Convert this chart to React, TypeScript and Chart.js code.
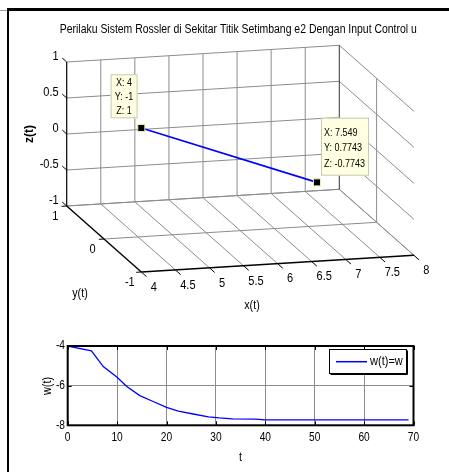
import React, { useEffect, useRef } from 'react';
import { Chart, registerables } from 'chart.js';

Chart.register(...registerables);

// ---------- data ----------
const TITLE = 'Perilaku Sistem Rossler di Sekitar Titik Setimbang e2 Dengan Input Control u';
const X_TICKS = [4, 4.5, 5, 5.5, 6, 6.5, 7, 7.5, 8];
const Y_TICKS = [-1, 0, 1];
const Z_TICKS = [-1, -0.5, 0, 0.5, 1];
const TRAJ_X = [4, 7.549];
const TRAJ_Y = [-1, 0.7743];
const TRAJ_Z = [1, -0.7743];

const T_VALUES = [0, 4.8, 7.2, 10, 11.9, 14.6, 17.3, 20, 22.4, 25.4, 28.5, 30.7, 33.4, 38, 40, 50, 60, 69];
const W_VALUES = [-4.0, -4.25, -5.04, -5.58, -6.03, -6.5, -6.8, -7.1, -7.28, -7.43, -7.57, -7.63, -7.68, -7.69, -7.73, -7.73, -7.73, -7.73];
const T_TICKS = [0, 10, 20, 30, 40, 50, 60, 70];
const W_TICKS = [-8, -6, -4];
const LEGEND_LABEL = 'w(t)=w';

// ---------- layout / style ----------
const FONT = '"Liberation Sans", Arial, Helvetica, sans-serif';
const GRID = '#8c8c8c';
const BLUE = '#0000ff';
const W = 449;
const TOP_H = 320;
const BOT_H = 152;

const XL = [X_TICKS[0], X_TICKS[X_TICKS.length - 1]];
const YL = [Y_TICKS[0], Y_TICKS[Y_TICKS.length - 1]];
const ZL = [Z_TICKS[0], Z_TICKS[Z_TICKS.length - 1]];

// orthographic view (screen vectors of normalized axes)
const VIEW = { ox: 66.7, oy: 206, xu: [272.6, -16.7], yu: [74.6, 66], zu: [0, -144] };
function proj(x: number, y: number, z: number) {
  const nx = (x - XL[0]) / (XL[1] - XL[0]);
  const ny = (YL[1] - y) / (YL[1] - YL[0]);
  const nz = (z - ZL[0]) / (ZL[1] - ZL[0]);
  return {
    x: VIEW.ox + VIEW.xu[0] * nx + VIEW.yu[0] * ny + VIEW.zu[0] * nz,
    y: VIEW.oy + VIEW.xu[1] * nx + VIEW.yu[1] * ny + VIEW.zu[1] * nz,
  };
}

type P3 = [number, number, number];

function txt(ctx: CanvasRenderingContext2D, s: string, x: number, y: number,
  o: { size?: number; bold?: boolean; align?: CanvasTextAlign; sx?: number; rot?: number } = {}) {
  ctx.save();
  ctx.translate(x, y);
  if (o.rot) ctx.rotate(o.rot);
  ctx.scale(o.sx ?? 0.88, 1);
  ctx.font = `${o.bold ? 'bold ' : ''}${o.size ?? 12}px ${FONT}`;
  ctx.textAlign = o.align ?? 'center';
  ctx.textBaseline = 'middle';
  ctx.fillStyle = '#000';
  ctx.fillText(s, 0, 0);
  ctx.restore();
}

function segDataset(a: P3, b: P3, color: string, width: number, order: number) {
  return {
    data: [proj(a[0], a[1], a[2]), proj(b[0], b[1], b[2])],
    showLine: true,
    borderColor: color,
    borderWidth: width,
    pointRadius: 0,
    fill: false,
    order,
  };
}

function build3DDatasets() {
  const ds: any[] = [];
  // back wall (y = max)
  X_TICKS.forEach((x, i) => {
    if (i === 0) return;
    const last = i === X_TICKS.length - 1;
    ds.push(segDataset([x, YL[1], ZL[0]], [x, YL[1], ZL[1]], last ? '#333' : GRID, 1, 3));
  });
  Z_TICKS.forEach((z) => ds.push(segDataset([XL[0], YL[1], z], [XL[1], YL[1], z], GRID, 1, 3)));
  // right wall (x = max)
  Z_TICKS.forEach((z) => ds.push(segDataset([XL[1], YL[1], z], [XL[1], YL[0], z], GRID, 1, 3)));
  Y_TICKS.forEach((y) => {
    if (y === YL[0] || y === YL[1]) return;
    ds.push(segDataset([XL[1], y, ZL[0]], [XL[1], y, ZL[1]], GRID, 1, 3));
  });
  // floor (z = min)
  X_TICKS.forEach((x, i) => {
    if (i === 0) return;
    ds.push(segDataset([x, YL[1], ZL[0]], [x, YL[0], ZL[0]], GRID, 1, 3));
  });
  Y_TICKS.forEach((y) => {
    if (y === YL[0]) return;
    ds.push(segDataset([XL[0], y, ZL[0]], [XL[1], y, ZL[0]], GRID, 1, 3));
  });
  // axes
  ds.push(segDataset([XL[0], YL[1], ZL[0]], [XL[0], YL[1], ZL[1]], '#000', 1.2, 2));
  ds.push(segDataset([XL[0], YL[1], ZL[0]], [XL[0], YL[0], ZL[0]], '#000', 1.4, 2));
  ds.push(segDataset([XL[0], YL[0], ZL[0]], [XL[1], YL[0], ZL[0]], '#000', 1.4, 2));
  // ticks
  Z_TICKS.forEach((z) => ds.push(segDataset([XL[0], YL[1], z], [XL[0], YL[1] + 0.12, z], '#000', 1, 2)));
  Y_TICKS.forEach((y) => ds.push(segDataset([XL[0], y, ZL[0]], [XL[0] - 0.075, y, ZL[0]], '#000', 1, 2)));
  X_TICKS.forEach((x) => ds.push(segDataset([x, YL[0], ZL[0]], [x, YL[0] - 0.14, ZL[0]], '#000', 1, 2)));
  // trajectory
  ds.push({
    data: TRAJ_X.map((x, i) => proj(x, TRAJ_Y[i], TRAJ_Z[i])),
    showLine: true,
    borderColor: BLUE,
    borderWidth: 1.6,
    pointRadius: 0,
    fill: false,
    order: 1,
  });
  // data cursor markers (first & last point)
  const n = TRAJ_X.length - 1;
  ds.push({
    data: [proj(TRAJ_X[0], TRAJ_Y[0], TRAJ_Z[0]), proj(TRAJ_X[n], TRAJ_Y[n], TRAJ_Z[n])],
    showLine: false,
    pointStyle: 'rect',
    pointRadius: 5,
    backgroundColor: '#000',
    borderColor: '#f4f0a0',
    borderWidth: 1,
    order: 0,
  });
  return ds;
}

const DATATIP_LAYOUT = [
  { idx: 0, dx: -30.7, dy: -53.7, w: 27, h: 44, rows: [8.5, 22.5, 36.5], align: 'center' as CanvasTextAlign },
  { idx: 1, dx: 4, dy: -64.7, w: 48, h: 58, rows: [15, 30.5, 46], align: 'left' as CanvasTextAlign },
];

const plugin3D = {
  id: 'labels3d',
  afterDraw(chart: any) {
    const ctx: CanvasRenderingContext2D = chart.ctx;
    const sx = chart.scales.x;
    const sy = chart.scales.y;
    const pix = (x: number, y: number, z: number) => {
      const p = proj(x, y, z);
      return { x: sx.getPixelForValue(p.x), y: sy.getPixelForValue(p.y) };
    };
    txt(ctx, TITLE, 238.3, 30, { size: 12, sx: 0.87 });
    Z_TICKS.forEach((z) => {
      const p = pix(XL[0], YL[1], z);
      txt(ctx, String(z), p.x - 8, p.y - 5, { align: 'right', sx: 0.92 });
    });
    Y_TICKS.forEach((y) => {
      const p = pix(XL[0], y, ZL[0]);
      txt(ctx, String(y), p.x - 11.5, p.y + 10.5, { sx: 0.92 });
    });
    X_TICKS.forEach((x) => {
      const p = pix(x, YL[0], ZL[0]);
      txt(ctx, String(x), p.x + 12.5, p.y + 15.5, { sx: 0.92 });
    });
    txt(ctx, 'z(t)', 30, 134, { bold: true, rot: -Math.PI / 2, sx: 1 });
    txt(ctx, 'y(t)', 80, 294, { sx: 0.9 });
    txt(ctx, 'x(t)', 252, 306, { sx: 0.9 });

    const n = TRAJ_X.length - 1;
    DATATIP_LAYOUT.forEach((d) => {
      const i = d.idx === 0 ? 0 : n;
      const p = pix(TRAJ_X[i], TRAJ_Y[i], TRAJ_Z[i]);
      const left = p.x + d.dx;
      const top = p.y + d.dy;
      ctx.save();
      ctx.fillStyle = '#ffffe1';
      ctx.fillRect(left, top, d.w, d.h);
      ctx.strokeStyle = '#c8c8b4';
      ctx.lineWidth = 1;
      ctx.strokeRect(left + 0.5, top + 0.5, d.w - 1, d.h - 1);
      ctx.restore();
      const lines = [`X: ${TRAJ_X[i]}`, `Y: ${TRAJ_Y[i]}`, `Z: ${TRAJ_Z[i]}`];
      lines.forEach((s, k) => {
        const tx = d.align === 'center' ? left + d.w / 2 : left + 3;
        txt(ctx, s, tx, top + d.rows[k], { size: 11, align: d.align, sx: 0.82 });
      });
    });
  },
};

const pluginBottom = {
  id: 'bottomDecor',
  afterDraw(chart: any) {
    const ctx: CanvasRenderingContext2D = chart.ctx;
    const a = chart.chartArea;
    const sx = chart.scales.x;
    const sy = chart.scales.y;
    ctx.save();
    // inward ticks
    ctx.strokeStyle = '#000';
    ctx.lineWidth = 1;
    ctx.beginPath();
    T_TICKS.forEach((t) => {
      const x = Math.round(sx.getPixelForValue(t)) + 0.5;
      ctx.moveTo(x, a.bottom); ctx.lineTo(x, a.bottom - 4);
      ctx.moveTo(x, a.top); ctx.lineTo(x, a.top + 4);
    });
    W_TICKS.forEach((w) => {
      const y = Math.round(sy.getPixelForValue(w)) + 0.5;
      ctx.moveTo(a.left, y); ctx.lineTo(a.left + 4, y);
      ctx.moveTo(a.right, y); ctx.lineTo(a.right - 4, y);
    });
    ctx.stroke();
    // box
    ctx.lineWidth = 2;
    ctx.strokeRect(a.left, a.top, a.right - a.left, a.bottom - a.top);
    ctx.restore();

    T_TICKS.forEach((t) => txt(ctx, String(t), sx.getPixelForValue(t), a.bottom + 12.7, { sx: 0.85 }));
    W_TICKS.forEach((w) => txt(ctx, String(w), a.left - 2.7, sy.getPixelForValue(w), { align: 'right', sx: 0.85 }));
    txt(ctx, 't', (a.left + a.right) / 2, 138, { sx: 0.9 });
    txt(ctx, 'w(t)', 47.5, 66, { rot: -Math.PI / 2, sx: 0.9 });

    // legend
    const ds = chart.data.datasets[0];
    const lx = 329.5, ly = 29.5, lw = 77, lh = 24;
    ctx.save();
    ctx.fillStyle = '#fff';
    ctx.fillRect(lx, ly, lw, lh);
    ctx.strokeStyle = '#000';
    ctx.lineWidth = 1;
    ctx.strokeRect(lx, ly, lw, lh);
    ctx.beginPath();
    ctx.moveTo(lx + lw + 1, ly + 1); ctx.lineTo(lx + lw + 1, ly + lh + 1); ctx.lineTo(lx + 1, ly + lh + 1);
    ctx.stroke();
    ctx.strokeStyle = ds.borderColor;
    ctx.lineWidth = 1.5;
    ctx.beginPath();
    ctx.moveTo(336, 41.7); ctx.lineTo(367, 41.7);
    ctx.stroke();
    ctx.restore();
    txt(ctx, ds.label, 370, 41.7, { align: 'left', sx: 0.92 });
  },
};

export default function App() {
  const topRef = useRef<HTMLCanvasElement>(null);
  const botRef = useRef<HTMLCanvasElement>(null);

  useEffect(() => {
    const top = new Chart(topRef.current!, {
      type: 'scatter',
      data: { datasets: build3DDatasets() },
      options: {
        responsive: false,
        animation: false,
        events: [],
        layout: { padding: 0, autoPadding: false },
        plugins: { legend: { display: false }, tooltip: { enabled: false }, title: { display: false } },
        scales: {
          x: { type: 'linear', min: 0, max: W, display: false },
          y: { type: 'linear', min: 0, max: TOP_H, reverse: true, display: false },
        },
      } as any,
      plugins: [plugin3D],
    });

    const bot = new Chart(botRef.current!, {
      type: 'line',
      data: {
        datasets: [{
          label: LEGEND_LABEL,
          data: T_VALUES.map((t, i) => ({ x: t, y: W_VALUES[i] })),
          borderColor: BLUE,
          borderWidth: 1.3,
          pointRadius: 0,
          tension: 0,
          fill: false,
        }],
      },
      options: {
        responsive: false,
        animation: false,
        events: [],
        layout: { padding: { left: 67.7, right: W - 413.5, top: 26, bottom: BOT_H - 105.3 }, autoPadding: false },
        plugins: { legend: { display: false }, tooltip: { enabled: false }, title: { display: false } },
        scales: {
          x: {
            type: 'linear', min: T_TICKS[0], max: T_TICKS[T_TICKS.length - 1],
            afterBuildTicks: (s: any) => { s.ticks = T_TICKS.map((v) => ({ value: v })); },
            afterFit: (s: any) => { s.height = 0; },
            ticks: { display: false },
            grid: { color: GRID, lineWidth: 1, drawTicks: false },
            border: { display: false },
          },
          y: {
            type: 'linear', min: W_TICKS[0], max: W_TICKS[W_TICKS.length - 1],
            afterBuildTicks: (s: any) => { s.ticks = W_TICKS.map((v) => ({ value: v })); },
            afterFit: (s: any) => { s.width = 0; },
            ticks: { display: false },
            grid: { color: GRID, lineWidth: 1, drawTicks: false },
            border: { display: false },
          },
        },
      } as any,
      plugins: [pluginBottom],
    });

    return () => { top.destroy(); bot.destroy(); };
  }, []);

  return (
    <div style={{ position: 'fixed', left: 0, top: 0, width: W, height: 472, background: '#fff', overflow: 'hidden' }}>
      <canvas ref={topRef} width={W} height={TOP_H} style={{ position: 'absolute', left: 0, top: 0, display: 'block' }} />
      <canvas ref={botRef} width={W} height={BOT_H} style={{ position: 'absolute', left: 0, top: TOP_H, display: 'block' }} />
      <div style={{ position: 'absolute', left: 0, top: 10, width: 7, height: 1, background: '#999' }} />
      <div style={{ position: 'absolute', left: 7, top: 8, width: W - 7, height: 3, background: '#000' }} />
      <div style={{ position: 'absolute', left: 7, top: 8, width: 2, height: 472 - 8, background: '#000' }} />
    </div>
  );
}
